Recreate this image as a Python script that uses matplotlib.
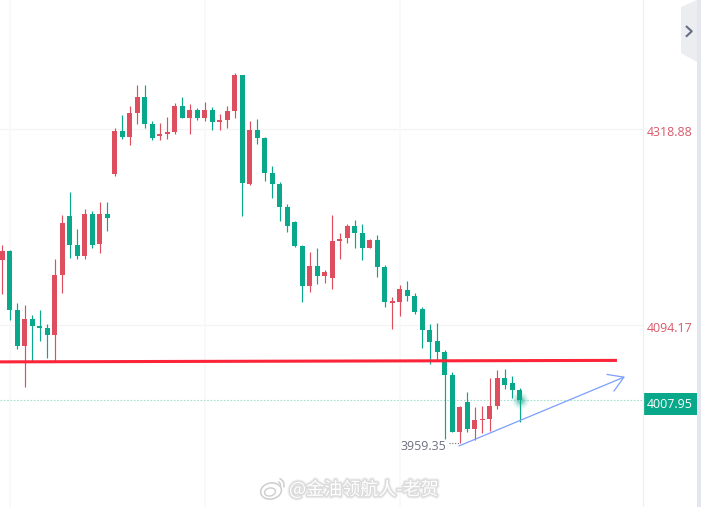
import matplotlib
matplotlib.use("Agg")
import matplotlib.pyplot as plt
import matplotlib.patheffects as pe
import numpy as np
from matplotlib.patches import Arc, Ellipse, Polygon
from matplotlib.transforms import ScaledTranslation

plt.rcParams['font.family'] = ['Open Sans', 'DejaVu Sans']

UP_COLOR = '#dd4f5e'
DOWN_COLOR = '#0aa88b'
LAST_PRICE = 4007.95
LOW_PRICE = 3959.35
PRICE_TICKS = [4318.88, 4094.17]
TICK_LABELS = ['4318.88', '4094.17']
GRID_CANDLES = [1, 27, 53]

opens = [4169.0, 4179.3, 4111.7, 4070.4, 4101.4, 4093.3, 4091.0, 4083.0, 4151.8, 4219.5,
         4186.2, 4173.6, 4221.8, 4187.3, 4221.8, 4267.6, 4316.9, 4310.0, 4337.5, 4355.9,
         4324.9, 4311.2, 4313.5, 4315.8, 4345.6, 4331.8, 4341.0, 4331.8, 4341.0, 4327.2,
         4329.5, 4339.8, 4381.1, 4256.1, 4318.0, 4308.9, 4268.8, 4256.1, 4229.8, 4212.6,
         4185.1, 4139.2, 4162.1, 4150.7, 4148.4, 4190.8, 4194.2, 4208.0, 4200.0, 4182.8,
         4191.9, 4161.0, 4119.7, 4120.9, 4134.6, 4127.7, 4112.8, 4088.8, 4076.1, 4063.5,
         4037.2, 3971.8, 4006.2, 3975.3, 3985.6, 3986.7, 4001.6, 4033.7, 4028.0, 4020.0]
closes = [4179.3, 4111.7, 4070.4, 4101.4, 4093.3, 4091.0, 4083.0, 4151.8, 4211.4, 4186.2,
          4173.6, 4221.8, 4186.2, 4221.8, 4217.2, 4316.9, 4310.0, 4337.5, 4355.9, 4324.9,
          4308.9, 4313.5, 4315.8, 4345.6, 4331.8, 4341.0, 4331.8, 4341.0, 4327.2, 4329.5,
          4339.8, 4381.1, 4257.3, 4318.0, 4308.9, 4268.8, 4256.1, 4229.8, 4208.0, 4185.1,
          4139.2, 4162.1, 4150.7, 4155.2, 4190.8, 4193.1, 4208.0, 4200.0, 4182.8, 4191.9,
          4161.0, 4120.9, 4122.0, 4135.8, 4127.7, 4109.4, 4088.8, 4075.0, 4063.5, 4037.2,
          3971.8, 4000.5, 3975.3, 3985.6, 3986.7, 4001.6, 4033.7, 4025.7, 4020.0, 4007.95]
highs = [4186.2, 4180.5, 4119.7, 4117.4, 4106.0, 4111.7, 4095.6, 4170.2, 4220.6, 4247.0,
         4204.6, 4227.5, 4225.2, 4235.5, 4235.5, 4320.3, 4335.3, 4345.6, 4369.6, 4369.6,
         4328.4, 4326.1, 4333.0, 4349.0, 4355.9, 4347.9, 4343.3, 4350.2, 4344.4, 4336.4,
         4345.6, 4383.4, 4381.1, 4328.4, 4330.7, 4310.0, 4276.8, 4258.4, 4233.2, 4213.7,
         4186.2, 4178.2, 4182.8, 4157.5, 4220.6, 4200.0, 4210.3, 4214.9, 4210.3, 4193.1,
         4197.7, 4163.3, 4126.6, 4140.3, 4144.9, 4131.2, 4115.1, 4095.6, 4096.8, 4065.8,
         4040.6, 4001.6, 4017.7, 4000.5, 4001.6, 4033.7, 4042.9, 4044.0, 4036.0, 4022.3]
lows = [4130.0, 4100.2, 4067.0, 4023.4, 4052.1, 4076.1, 4056.7, 4052.1, 4131.2, 4171.3,
        4170.2, 4170.2, 4182.8, 4177.0, 4202.3, 4265.3, 4307.7, 4300.9, 4324.9, 4320.3,
        4306.6, 4306.6, 4307.7, 4313.5, 4331.8, 4313.5, 4329.5, 4328.4, 4318.0, 4318.0,
        4320.3, 4331.8, 4219.5, 4255.0, 4302.0, 4259.6, 4240.1, 4213.7, 4201.1, 4183.9,
        4120.9, 4132.3, 4141.5, 4142.6, 4135.8, 4170.2, 4188.5, 4182.8, 4169.0, 4182.8,
        4149.5, 4115.1, 4089.9, 4104.8, 4122.0, 4107.1, 4068.1, 4049.8, 4053.2, 3963.8,
        3971.8, LOW_PRICE, 3971.8, 3962.6, 3970.7, 3973.0, 3998.2, 4021.1, 4010.8, 3983.3]

# support level and rising trend line, as (candle, price)
level_x = [-0.31, 81.96]
level_y = [4052.2, 4053.9]
trend_start = (60.9, 3955.8)
trend_end = (83.03, 4035.2)

fig = plt.figure(figsize=(7.01, 5.07), dpi=100, facecolor='white')
ax = fig.add_axes([0, 0, 643 / 701, 1])
ax.set_xlim(-0.307, 85.43)
ax.set_ylim(3885.8, 4467.1)

for spine in ['top', 'left', 'bottom']:
    ax.spines[spine].set_visible(False)
ax.spines['right'].set_color('#eff0f3')
ax.spines['right'].set_linewidth(0.9)
ax.set_xticks([])

ax.yaxis.tick_right()
ax.set_yticks(PRICE_TICKS + [LAST_PRICE])
ax.set_yticklabels(TICK_LABELS + ['%.2f' % LAST_PRICE])
ax.tick_params(axis='y', length=0, pad=3, labelsize=8.9, labelcolor='#d9596a')

# axis labels sit a little under their price lines
label_shift = ScaledTranslation(0, -1.5 / 72, fig.dpi_scale_trans)
for label in ax.get_yticklabels():
    label.set_transform(label.get_transform() + label_shift)
last_label = ax.get_yticklabels()[-1]
last_label.set_color('white')
last_label.set_bbox(dict(facecolor=DOWN_COLOR, edgecolor='none', pad=3.0))

for price in PRICE_TICKS:
    ax.axhline(price, color='#f4f4f6', lw=0.9, zorder=0)
for candle in GRID_CANDLES:
    ax.axvline(candle, color='#f9f9fb', lw=1.4, zorder=0)
ax.axhline(LAST_PRICE, color='#a3e0d2', lw=0.8, ls=(0, (1.5, 1.5)), zorder=1)

# candles: wick first, body over it
xs = np.arange(len(opens))
opens = np.array(opens)
closes = np.array(closes)
colors = [UP_COLOR if c >= o else DOWN_COLOR for o, c in zip(opens, closes)]
ax.vlines(xs, lows, highs, colors=colors, lw=0.85, zorder=2)
ax.bar(xs, np.abs(closes - opens), bottom=np.minimum(opens, closes), width=0.667,
       color=colors, linewidth=0, zorder=3)

# pulse around the last close
for size, alpha in [(150, 0.07), (95, 0.1), (55, 0.16), (25, 0.3)]:
    ax.scatter(xs[-1], LAST_PRICE, s=size, color=DOWN_COLOR, alpha=alpha, linewidths=0, zorder=4)

ax.plot(level_x, level_y, color='#fb2438', lw=2.2, solid_capstyle='butt', zorder=5)

ax.annotate('', xy=trend_end, xytext=trend_start,
            arrowprops=dict(arrowstyle='->,head_length=10.5,head_width=6.5', mutation_scale=1,
                            color='#7b9ffb', lw=0.9, shrinkA=0, shrinkB=0), zorder=5)

# lowest price marker
ax.plot([59.6, 61], [LOW_PRICE, LOW_PRICE], color='#70757f', lw=0.8, ls=(0, (1, 1.5)), zorder=2)
ax.annotate('%.2f' % LOW_PRICE, xy=(59.6, LOW_PRICE), xytext=(-2.5, -2.5), textcoords='offset points',
            ha='right', va='center', fontsize=8.9, color='#6d7180')

# interface pieces on top, in pixel positions
top = fig.add_axes([0, 0, 1, 1], facecolor='none')
top.set_xlim(0, 701)
top.set_ylim(507, 0)
top.axis('off')
top.axvspan(697, 701, color='#e3e6ee', lw=0)
top.add_patch(Polygon([(681, 7), (697, 0), (697, 62), (681, 53)], closed=True,
                      facecolor='#ecedf1', edgecolor='none'))
top.plot([686.7, 691.7, 686.7], [26.7, 31.3, 36], color='#666e85', lw=1.5)

# weibo style mark and account name
mark_color = '#cdcdcd'
top.add_patch(Ellipse((271, 491), 21, 16, angle=-12, facecolor='white', edgecolor=mark_color, lw=1.1))
top.add_patch(Ellipse((270, 492), 11, 8, angle=-12, facecolor='white', edgecolor=mark_color, lw=1.0))
top.add_patch(Arc((277, 485), 14, 14, theta1=-70, theta2=20, color=mark_color, lw=1.1))
top.add_patch(Arc((277, 485), 7, 7, theta1=-70, theta2=20, color=mark_color, lw=1.0))
top.text(289, 489.5, '@金油领航人-老贺', family=['Noto Sans CJK SC', 'DejaVu Sans'], fontsize=13,
         color='white', va='center', ha='left',
         path_effects=[pe.withStroke(linewidth=3.5, foreground='#efefef'),
                       pe.withStroke(linewidth=2, foreground='#dcdcdc')])

fig.savefig('out.png', dpi=100)
